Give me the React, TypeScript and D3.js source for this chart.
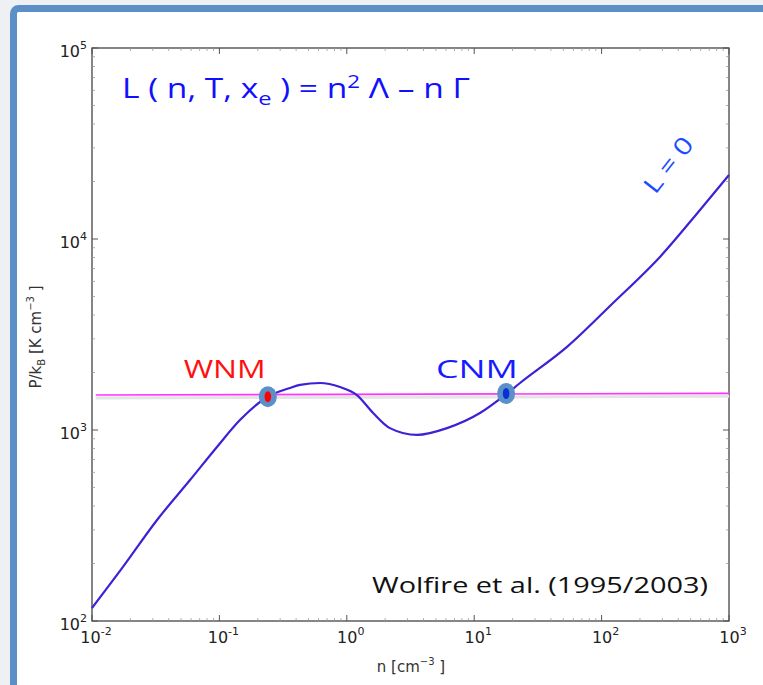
import * as d3 from "d3"

// curve L = 0 (n in cm^-3, P/k in K cm^-3)
const curveN = [0.01, 0.0175, 0.0324, 0.0588, 0.0957, 0.145, 0.237, 0.358, 0.43, 0.617, 0.885, 1.2, 1.61, 2.18, 3.56, 6.12, 11.1, 18.1, 22.9, 53.5, 123, 287, 592, 1000]
const curveP = [117, 192, 338, 547, 815, 1127, 1489, 1660, 1722, 1762, 1679, 1524, 1227, 1023, 942, 1023, 1227, 1553, 1762, 2723, 4624, 8054, 14190, 21630]

// constant pressure line
const isobarN = [0.0107, 1000]
const isobarP = [1524, 1556]

// phases
const phases = [
  { name: "WNM", n: 0.24, p: 1495, color: "#ff0000", label: "#ff1010", labelN: 0.11 },
  { name: "CNM", n: 17.8, p: 1553, color: "#0a2fd8", label: "#1a1aff", labelN: 10.5 },
]

const xTicks = [-2, -1, 0, 1, 2, 3]
const yTicks = [2, 3, 4, 5]

const W = 763
const H = 685

export default function App() {
  const x = d3.scaleLog().domain([0.01, 1000]).range([92, 729])
  const y = d3.scaleLog().domain([100, 100000]).range([621, 48])

  const pts: [number, number][] = curveN.map((n, i) => [x(n), y(curveP[i])])
  const iso: [number, number][] = isobarN.map((n, i) => [x(n), y(isobarP[i])])

  const minorX: number[] = []
  for (let e = -2; e < 3; e++) for (let k = 2; k < 10; k++) minorX.push(k * Math.pow(10, e))
  const minorY: number[] = []
  for (let e = 2; e < 5; e++) for (let k = 2; k < 10; k++) minorY.push(k * Math.pow(10, e))

  const [x0, x1] = x.range()
  const [y0, y1] = y.range()
  const font = "DejaVu Sans, sans-serif"
  const sans = "Open Sans, sans-serif"

  return (
    <svg width={W} height={H} style={{ position: "absolute", left: 0, top: 0 }}>
      <rect x={0} y={0} width={W} height={H} fill="#eef0f3" />
      <rect x={13.5} y={8.5} width={W + 20} height={H + 10} rx={5} fill="#fff" stroke="#5b8fc8" strokeWidth={7} />

      {/* axes frame */}
      <rect x={x0} y={y1} width={x1 - x0} height={y0 - y1} fill="none" stroke="#444" strokeWidth={1.3} />
      {minorX.map((v) => (
        <g key={"mx" + v} stroke="#999" strokeWidth={0.8}>
          <line x1={x(v)} x2={x(v)} y1={y0} y2={y0 - 3} />
          <line x1={x(v)} x2={x(v)} y1={y1} y2={y1 + 3} />
        </g>
      ))}
      {minorY.map((v) => (
        <g key={"my" + v} stroke="#999" strokeWidth={0.8}>
          <line x1={x0} x2={x0 + 3} y1={y(v)} y2={y(v)} />
          <line x1={x1} x2={x1 - 3} y1={y(v)} y2={y(v)} />
        </g>
      ))}
      {xTicks.map((e) => (
        <g key={"xt" + e}>
          <line x1={x(10 ** e)} x2={x(10 ** e)} y1={y0} y2={y0 - 6} stroke="#555" />
          <line x1={x(10 ** e)} x2={x(10 ** e)} y1={y1} y2={y1 + 6} stroke="#555" />
          <text x={x(10 ** e) + 4} y={y0 + 22} textAnchor="middle" fontFamily={font} fontSize={16} fill="#222">
            10<tspan dy={-8} fontSize={11}>{e}</tspan>
          </text>
        </g>
      ))}
      {yTicks.map((e) => (
        <g key={"yt" + e}>
          <line x1={x0} x2={x0 + 6} y1={y(10 ** e)} y2={y(10 ** e)} stroke="#555" />
          <line x1={x1} x2={x1 - 6} y1={y(10 ** e)} y2={y(10 ** e)} stroke="#555" />
          <text x={x0 - 5} y={y(10 ** e) + 9} textAnchor="end" fontFamily={font} fontSize={16} fill="#222">
            10<tspan dy={-8} fontSize={11}>{e}</tspan>
          </text>
        </g>
      ))}

      <text x={411} y={672} textAnchor="middle" fontFamily={font} fontSize={15} fill="#333">
        n [cm<tspan dy={-7} fontSize={10}>−3</tspan><tspan dy={7}> ]</tspan>
      </text>
      <text transform="translate(41,337) rotate(-90)" textAnchor="middle" fontFamily={font} fontSize={15} fill="#333">
        P/k<tspan dy={4} fontSize={10}>B</tspan><tspan dy={-4}> [K cm</tspan><tspan dy={-7} fontSize={10}>−3</tspan><tspan dy={7}> ]</tspan>
      </text>

      {/* isobar with soft shadow */}
      <path d={d3.line()(iso.map(([a, b]) => [a, b + 3] as [number, number])) || ""} stroke="#e4e4e4" strokeWidth={3} fill="none" />
      <path d={d3.line()(iso) || ""} stroke="#ff33ff" strokeWidth={1.6} fill="none" />

      <path d={d3.line().curve(d3.curveMonotoneX)(pts) || ""} stroke="#3b22d6" strokeWidth={2.2} fill="none" />

      {phases.map((p) => (
        <g key={p.name}>
          <ellipse cx={x(p.n)} cy={y(p.p)} rx={9} ry={10.5} fill="#5b8fc8" />
          <ellipse cx={x(p.n)} cy={y(p.p)} rx={3.3} ry={5.5} fill={p.color} />
          <text x={x(p.labelN)} y={378} textAnchor="middle" fontFamily={sans} fontSize={26} fill={p.label} textLength={82} lengthAdjust="spacingAndGlyphs">
            {p.name}
          </text>
        </g>
      ))}

      <text x={122} y={98} fontFamily={sans} fontSize={27} fill="#1010ff" textLength={348} lengthAdjust="spacingAndGlyphs">
        L ( n, T, x<tspan dy={7} fontSize={19}>e</tspan><tspan dy={-7}> ) = n</tspan>
        <tspan dy={-10} fontSize={18}>2</tspan>
        <tspan dy={10}> Λ – n Γ</tspan>
      </text>

      <text transform="translate(675,170) rotate(-52)" textAnchor="middle" fontFamily={sans} fontSize={24} fill="#1a4dff" textLength={64} lengthAdjust="spacingAndGlyphs">
        L = 0
      </text>

      <text x={372} y={593} fontFamily={sans} fontSize={22} fill="#111" textLength={336} lengthAdjust="spacingAndGlyphs">
        Wolfire et al. (1995/2003)
      </text>
    </svg>
  )
}
